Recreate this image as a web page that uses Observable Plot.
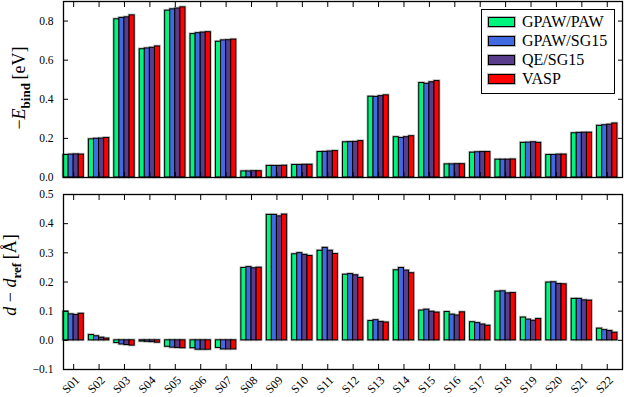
<!DOCTYPE html>
<html><head><meta charset="utf-8">
<script src="https://cdn.jsdelivr.net/npm/d3@7"></script>
<script src="https://cdn.jsdelivr.net/npm/@observablehq/plot@0.6"></script>
<style>
body{margin:0;background:#fff;}
#wrap{position:relative;width:624px;height:397px;font-family:"Liberation Serif",serif;overflow:hidden;background:#fff;}
#wrap svg{display:block;overflow:visible;}
#wrap svg text{font-family:"Liberation Serif",serif;}
.legend{position:absolute;left:481px;top:9px;width:132px;height:81px;border:1.3px solid #000;background:#fff;box-sizing:content-box;padding-top:2px;}
.legend .row{height:19px;display:flex;align-items:center;font-size:16px;color:#000;}
.legend .sw{width:25px;height:8px;border:1px solid #000;margin-left:6px;margin-right:7px;box-shadow:0 0 0 1px #bbb;}
</style>
</head><body>
<div id="wrap"></div>
<script>
const categories = ["S01","S02","S03","S04","S05","S06","S07","S08","S09","S10","S11","S12","S13","S14","S15","S16","S17","S18","S19","S20","S21","S22"];
const seriesNames = ["GPAW/PAW","GPAW/SG15","QE/SG15","VASP"];
const seriesColors = ["#00f57f","#4169e1","#5a3c8c","#ff0000"];

// -E_bind [eV]
const gpawPawE  = [0.115,0.195,0.809,0.656,0.853,0.733,0.694,0.031,0.059,0.064,0.130,0.180,0.413,0.206,0.483,0.067,0.127,0.091,0.177,0.115,0.226,0.264];
const gpawSg15E = [0.117,0.198,0.816,0.660,0.860,0.738,0.701,0.031,0.059,0.064,0.131,0.181,0.412,0.202,0.479,0.067,0.129,0.091,0.178,0.115,0.228,0.267];
const qeSg15E   = [0.118,0.199,0.819,0.663,0.864,0.741,0.702,0.032,0.059,0.065,0.133,0.182,0.416,0.206,0.487,0.068,0.130,0.091,0.180,0.117,0.229,0.270];
const vaspE     = [0.117,0.202,0.829,0.670,0.870,0.743,0.705,0.032,0.060,0.065,0.135,0.186,0.420,0.211,0.493,0.068,0.130,0.092,0.177,0.117,0.229,0.276];

// d - d_ref [Å]
const gpawPawD  = [0.098,0.018,-0.009,-0.004,-0.022,-0.027,-0.026,0.248,0.430,0.295,0.307,0.225,0.066,0.240,0.102,0.097,0.062,0.167,0.078,0.198,0.142,0.040];
const gpawSg15D = [0.089,0.014,-0.014,-0.005,-0.025,-0.032,-0.031,0.251,0.430,0.299,0.317,0.227,0.069,0.248,0.105,0.088,0.059,0.168,0.071,0.199,0.142,0.035];
const qeSg15D   = [0.087,0.009,-0.016,-0.006,-0.026,-0.032,-0.031,0.247,0.425,0.293,0.307,0.223,0.063,0.239,0.098,0.085,0.054,0.161,0.067,0.193,0.137,0.032];
const vaspD     = [0.091,0.006,-0.018,-0.008,-0.027,-0.032,-0.031,0.249,0.431,0.289,0.296,0.214,0.061,0.230,0.095,0.096,0.050,0.162,0.073,0.192,0.136,0.026];

const yTicksE = [0, 0.2, 0.4, 0.6, 0.8];
const yTicksD = [-0.1, 0, 0.1, 0.2, 0.3, 0.4, 0.5];

const idx = categories.map((_, i) => i);
function rows(arrs) {
  const out = [];
  categories.forEach((c, i) => arrs.forEach((a, j) => out.push({i, j, cat: c, series: seriesNames[j], value: a[i]})));
  return out;
}
const rowsE = rows([gpawPawE, gpawSg15E, qeSg15E, vaspE]);
const rowsD = rows([gpawPawD, gpawSg15D, qeSg15D, vaspD]);

const GW = 0.8, BW = GW / seriesNames.length;
const bx1 = d => d.i - GW / 2 + BW * d.j;
const bx2 = d => d.i - GW / 2 + BW * (d.j + 1);
const fmt = d3.format(".1f");
const style = "font-family: 'Liberation Serif', serif; font-size: 11px; background: transparent; color: #000; overflow: visible;";
const FF = "Liberation Serif";

function panel({data, ticks, domain, height, marginTop, marginBottom, xLabels}) {
  return Plot.plot({
    width: 624, height, marginLeft: 63, marginRight: 2, marginTop, marginBottom,
    style,
    x: {domain: [-0.4, 21.6], label: null},
    y: {domain, label: null},
    color: {domain: seriesNames, range: seriesColors},
    marks: [
      Plot.rectY(data, {x1: bx1, x2: bx2, y1: 0, y2: "value", fill: "none", stroke: "#b8b8b8", strokeWidth: 2.6}),
      Plot.rectY(data, {x1: bx1, x2: bx2, y1: 0, y2: "value", fill: "series", stroke: "#000", strokeWidth: 1}),
      Plot.axisY({anchor: "left", ticks, label: null, tickSize: 0, tickPadding: 10, tickFormat: fmt, fontSize: 11.5, fontFamily: FF}),
      Plot.axisY({anchor: "left", ticks, label: null, tickSize: -5, tickFormat: () => ""}),
      Plot.axisY({anchor: "right", ticks, label: null, tickSize: -5, tickFormat: () => ""}),
      Plot.axisX({anchor: "top", ticks: idx, label: null, tickSize: -5, tickFormat: () => ""}),
      Plot.axisX({anchor: "bottom", ticks: idx, label: null, tickSize: -5, tickFormat: () => ""}),
      xLabels ? Plot.text(idx, {x: d => d, text: d => categories[d], frameAnchor: "bottom", rotate: -45, dy: 18, textAnchor: "middle", fontSize: 12, fontFamily: FF}) : null,
      Plot.frame({stroke: "#000", strokeWidth: 1.3})
    ]
  });
}

function yLabel(svg, cx, cy, parts) {
  const t = d3.select(svg).append("text")
    .attr("transform", `translate(${cx},${cy}) rotate(-90)`)
    .attr("text-anchor", "middle")
    .attr("font-family", "Liberation Serif, serif")
    .attr("font-size", 18)
    .attr("fill", "#000");
  parts.forEach(p => {
    const s = t.append("tspan").text(p.t);
    if (p.i) s.attr("font-style", "italic");
    if (p.sub) s.attr("font-size", 13).attr("font-weight", "bold").attr("dy", 5);
    if (p.up) s.attr("dy", -5);
  });
}

const wrap = document.getElementById("wrap");
const topPlot = panel({data: rowsE, ticks: yTicksE, domain: [0, 0.9], height: 180, marginTop: 1, marginBottom: 3, xLabels: false});
const botPlot = panel({data: rowsD, ticks: yTicksD, domain: [-0.1, 0.5], height: 217, marginTop: 14, marginBottom: 28, xLabels: true});
yLabel(topPlot, 25, 88, [{t: "\u2212"}, {t: "E", i: true}, {t: "bind", sub: true}, {t: "\u2009[eV]", up: true}]);
yLabel(botPlot, 16, 95, [{t: "d", i: true}, {t: " \u2212 "}, {t: "d", i: true}, {t: "ref", sub: true}, {t: "\u2009[\u00c5]", up: true}]);
wrap.appendChild(botPlot);
botPlot.style.position = "absolute";
botPlot.style.left = "0px";
botPlot.style.top = "180px";
wrap.appendChild(topPlot);
topPlot.style.position = "absolute";
topPlot.style.left = "0px";
topPlot.style.top = "0px";

const leg = document.createElement("div");
leg.className = "legend";
seriesNames.forEach((n, k) => {
  const r = document.createElement("div");
  r.className = "row";
  const sw = document.createElement("span");
  sw.className = "sw";
  sw.style.background = seriesColors[k];
  const tx = document.createElement("span");
  tx.textContent = n;
  r.appendChild(sw); r.appendChild(tx);
  leg.appendChild(r);
});
wrap.appendChild(leg);
</script>
</body></html>
